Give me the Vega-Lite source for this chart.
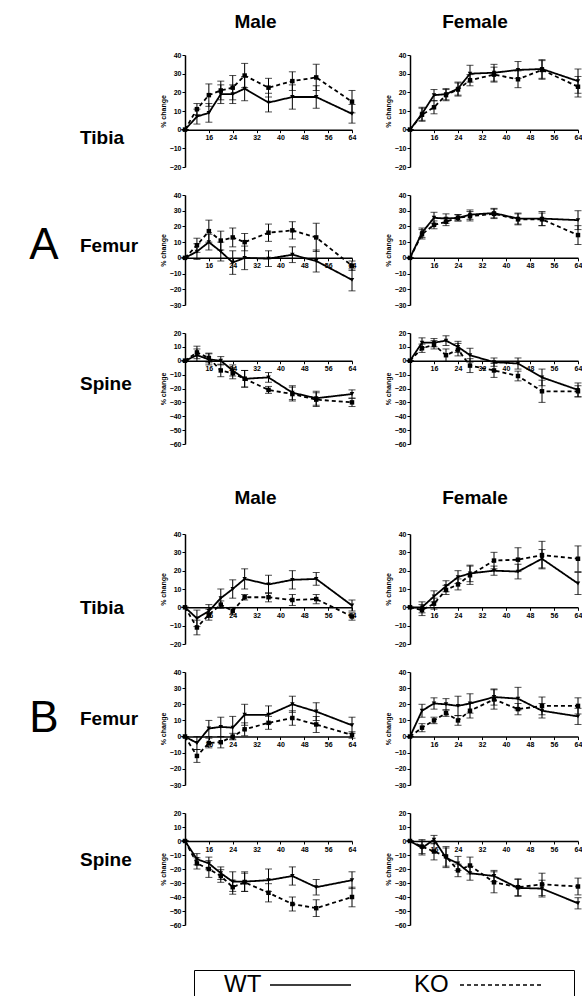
{
"$schema": "https://vega.github.io/schema/vega-lite/v6.json",
"padding": 0,
"background": "white",
"spacing": 28,
"align": "each",
"config": {
  "font": "Liberation Sans",
  "view": {"stroke": null},
  "axis": {"grid": false, "domainColor": "black", "domainWidth": 1.5, "tickColor": "black", "tickSize": 3, "tickWidth": 1, "labelFontSize": 7, "labelFontWeight": "bold", "labelColor": "black", "labelPadding": 1, "labelFlush": false, "labelOverlap": false, "titleFontSize": 7, "titleFontWeight": "bold", "titleColor": "black", "titlePadding": 3},
  "text": {"color": "black"}
},
"datasets": {
  "pv": [
    {"panel": "AMT", "p": "p=0.015"}, {"panel": "AFT", "p": "p=0.376"},
    {"panel": "AMF", "p": "p<0.001"}, {"panel": "AFF", "p": "p=0.200"},
    {"panel": "AMS", "p": "p=0.213"}, {"panel": "AFS", "p": "p=0.006"},
    {"panel": "BMT", "p": "p<0.001"}, {"panel": "BFT", "p": "p=0.489"},
    {"panel": "BMF", "p": "p=0.002"}, {"panel": "BFF", "p": "p=0.072"},
    {"panel": "BMS", "p": "p=0.011"}, {"panel": "BFS", "p": "p=0.750"}
  ],
  "d": [
    {"panel":"AMT","geno":"WT","week":8,"mean":0,"sem":0},{"panel":"AMT","geno":"WT","week":12,"mean":7,"sem":4},{"panel":"AMT","geno":"WT","week":16,"mean":9,"sem":5},{"panel":"AMT","geno":"WT","week":20,"mean":19,"sem":5},{"panel":"AMT","geno":"WT","week":24,"mean":19,"sem":5},{"panel":"AMT","geno":"WT","week":28,"mean":22,"sem":6.5},{"panel":"AMT","geno":"WT","week":36,"mean":14.5,"sem":5},{"panel":"AMT","geno":"WT","week":44,"mean":17.5,"sem":6.5},{"panel":"AMT","geno":"WT","week":52,"mean":17.5,"sem":6},{"panel":"AMT","geno":"WT","week":64,"mean":8.5,"sem":5},
    {"panel":"AMT","geno":"KO","week":8,"mean":0,"sem":0},{"panel":"AMT","geno":"KO","week":12,"mean":11,"sem":3},{"panel":"AMT","geno":"KO","week":16,"mean":18.5,"sem":6},{"panel":"AMT","geno":"KO","week":20,"mean":21,"sem":5},{"panel":"AMT","geno":"KO","week":24,"mean":22.5,"sem":6.5},{"panel":"AMT","geno":"KO","week":28,"mean":29,"sem":6.5},{"panel":"AMT","geno":"KO","week":36,"mean":22.5,"sem":5},{"panel":"AMT","geno":"KO","week":44,"mean":26,"sem":5},{"panel":"AMT","geno":"KO","week":52,"mean":28,"sem":7},{"panel":"AMT","geno":"KO","week":64,"mean":15,"sem":6},
    {"panel":"AFT","geno":"WT","week":8,"mean":0,"sem":0},{"panel":"AFT","geno":"WT","week":12,"mean":8.5,"sem":3.5},{"panel":"AFT","geno":"WT","week":16,"mean":18.5,"sem":3},{"panel":"AFT","geno":"WT","week":20,"mean":19,"sem":3},{"panel":"AFT","geno":"WT","week":24,"mean":22,"sem":3.5},{"panel":"AFT","geno":"WT","week":28,"mean":30,"sem":4.5},{"panel":"AFT","geno":"WT","week":36,"mean":30.5,"sem":4.5},{"panel":"AFT","geno":"WT","week":44,"mean":32,"sem":4.5},{"panel":"AFT","geno":"WT","week":52,"mean":32.5,"sem":5},{"panel":"AFT","geno":"WT","week":64,"mean":26,"sem":6.5},
    {"panel":"AFT","geno":"KO","week":8,"mean":0,"sem":0},{"panel":"AFT","geno":"KO","week":12,"mean":8,"sem":3.5},{"panel":"AFT","geno":"KO","week":16,"mean":12,"sem":3.5},{"panel":"AFT","geno":"KO","week":20,"mean":18.5,"sem":3},{"panel":"AFT","geno":"KO","week":24,"mean":21.5,"sem":3.5},{"panel":"AFT","geno":"KO","week":28,"mean":26.5,"sem":3},{"panel":"AFT","geno":"KO","week":36,"mean":29.5,"sem":4},{"panel":"AFT","geno":"KO","week":44,"mean":27,"sem":4.5},{"panel":"AFT","geno":"KO","week":52,"mean":32,"sem":5},{"panel":"AFT","geno":"KO","week":64,"mean":23,"sem":5.5},
    {"panel":"AMF","geno":"WT","week":8,"mean":0,"sem":0},{"panel":"AMF","geno":"WT","week":12,"mean":4,"sem":5},{"panel":"AMF","geno":"WT","week":16,"mean":10,"sem":5},{"panel":"AMF","geno":"WT","week":20,"mean":4,"sem":6},{"panel":"AMF","geno":"WT","week":24,"mean":-3,"sem":7.5},{"panel":"AMF","geno":"WT","week":28,"mean":0,"sem":7.5},{"panel":"AMF","geno":"WT","week":36,"mean":-0.5,"sem":5},{"panel":"AMF","geno":"WT","week":44,"mean":2,"sem":5},{"panel":"AMF","geno":"WT","week":52,"mean":-2,"sem":7},{"panel":"AMF","geno":"WT","week":64,"mean":-14,"sem":7},
    {"panel":"AMF","geno":"KO","week":8,"mean":0,"sem":0},{"panel":"AMF","geno":"KO","week":12,"mean":8,"sem":4.5},{"panel":"AMF","geno":"KO","week":16,"mean":17,"sem":7},{"panel":"AMF","geno":"KO","week":20,"mean":11,"sem":6},{"panel":"AMF","geno":"KO","week":24,"mean":13,"sem":6},{"panel":"AMF","geno":"KO","week":28,"mean":10,"sem":5.5},{"panel":"AMF","geno":"KO","week":36,"mean":16,"sem":5.5},{"panel":"AMF","geno":"KO","week":44,"mean":17.5,"sem":5.5},{"panel":"AMF","geno":"KO","week":52,"mean":13,"sem":9},{"panel":"AMF","geno":"KO","week":64,"mean":-5,"sem":3},
    {"panel":"AFF","geno":"WT","week":8,"mean":0,"sem":0},{"panel":"AFF","geno":"WT","week":12,"mean":16,"sem":3},{"panel":"AFF","geno":"WT","week":16,"mean":25.5,"sem":3.5},{"panel":"AFF","geno":"WT","week":20,"mean":25,"sem":3},{"panel":"AFF","geno":"WT","week":24,"mean":25.5,"sem":2},{"panel":"AFF","geno":"WT","week":28,"mean":27.5,"sem":3},{"panel":"AFF","geno":"WT","week":36,"mean":28.5,"sem":3},{"panel":"AFF","geno":"WT","week":44,"mean":25,"sem":3.5},{"panel":"AFF","geno":"WT","week":52,"mean":25,"sem":4.5},{"panel":"AFF","geno":"WT","week":64,"mean":24,"sem":6},
    {"panel":"AFF","geno":"KO","week":8,"mean":0,"sem":0},{"panel":"AFF","geno":"KO","week":12,"mean":15,"sem":3},{"panel":"AFF","geno":"KO","week":16,"mean":21,"sem":2.5},{"panel":"AFF","geno":"KO","week":20,"mean":23,"sem":2.5},{"panel":"AFF","geno":"KO","week":24,"mean":25.5,"sem":2},{"panel":"AFF","geno":"KO","week":28,"mean":26.5,"sem":3},{"panel":"AFF","geno":"KO","week":36,"mean":28,"sem":3},{"panel":"AFF","geno":"KO","week":44,"mean":24.5,"sem":3.5},{"panel":"AFF","geno":"KO","week":52,"mean":24.5,"sem":4},{"panel":"AFF","geno":"KO","week":64,"mean":14.5,"sem":6},
    {"panel":"AMS","geno":"WT","week":8,"mean":0,"sem":0},{"panel":"AMS","geno":"WT","week":12,"mean":4,"sem":4.5},{"panel":"AMS","geno":"WT","week":16,"mean":1,"sem":4},{"panel":"AMS","geno":"WT","week":20,"mean":0,"sem":3},{"panel":"AMS","geno":"WT","week":24,"mean":-7,"sem":4},{"panel":"AMS","geno":"WT","week":28,"mean":-13,"sem":6},{"panel":"AMS","geno":"WT","week":36,"mean":-12,"sem":3.5},{"panel":"AMS","geno":"WT","week":44,"mean":-23,"sem":5},{"panel":"AMS","geno":"WT","week":52,"mean":-27,"sem":5},{"panel":"AMS","geno":"WT","week":64,"mean":-24,"sem":3},
    {"panel":"AMS","geno":"KO","week":8,"mean":0,"sem":0},{"panel":"AMS","geno":"KO","week":12,"mean":6,"sem":4.5},{"panel":"AMS","geno":"KO","week":16,"mean":2,"sem":3.5},{"panel":"AMS","geno":"KO","week":20,"mean":-7,"sem":4.5},{"panel":"AMS","geno":"KO","week":24,"mean":-9,"sem":4},{"panel":"AMS","geno":"KO","week":28,"mean":-13,"sem":6},{"panel":"AMS","geno":"KO","week":36,"mean":-21,"sem":2.5},{"panel":"AMS","geno":"KO","week":44,"mean":-24,"sem":5},{"panel":"AMS","geno":"KO","week":52,"mean":-28,"sem":5},{"panel":"AMS","geno":"KO","week":64,"mean":-30,"sem":3},
    {"panel":"AFS","geno":"WT","week":8,"mean":0,"sem":0},{"panel":"AFS","geno":"WT","week":12,"mean":13,"sem":3.5},{"panel":"AFS","geno":"WT","week":16,"mean":13,"sem":3},{"panel":"AFS","geno":"WT","week":20,"mean":14.5,"sem":3.5},{"panel":"AFS","geno":"WT","week":24,"mean":10,"sem":4},{"panel":"AFS","geno":"WT","week":28,"mean":4,"sem":5},{"panel":"AFS","geno":"WT","week":36,"mean":-1,"sem":3},{"panel":"AFS","geno":"WT","week":44,"mean":-2,"sem":4},{"panel":"AFS","geno":"WT","week":52,"mean":-12,"sem":6},{"panel":"AFS","geno":"WT","week":64,"mean":-21,"sem":5},
    {"panel":"AFS","geno":"KO","week":8,"mean":0,"sem":0},{"panel":"AFS","geno":"KO","week":12,"mean":9,"sem":3},{"panel":"AFS","geno":"KO","week":16,"mean":11.5,"sem":3},{"panel":"AFS","geno":"KO","week":20,"mean":4,"sem":4.5},{"panel":"AFS","geno":"KO","week":24,"mean":8,"sem":4.5},{"panel":"AFS","geno":"KO","week":28,"mean":-3.5,"sem":5},{"panel":"AFS","geno":"KO","week":36,"mean":-7,"sem":5},{"panel":"AFS","geno":"KO","week":44,"mean":-11,"sem":3.5},{"panel":"AFS","geno":"KO","week":52,"mean":-22,"sem":8},{"panel":"AFS","geno":"KO","week":64,"mean":-22,"sem":4},
    {"panel":"BMT","geno":"WT","week":8,"mean":0,"sem":0},{"panel":"BMT","geno":"WT","week":12,"mean":-6,"sem":4.5},{"panel":"BMT","geno":"WT","week":16,"mean":-2,"sem":3.5},{"panel":"BMT","geno":"WT","week":20,"mean":5,"sem":5},{"panel":"BMT","geno":"WT","week":24,"mean":10,"sem":5},{"panel":"BMT","geno":"WT","week":28,"mean":15.5,"sem":5.5},{"panel":"BMT","geno":"WT","week":36,"mean":12.5,"sem":5},{"panel":"BMT","geno":"WT","week":44,"mean":15,"sem":5},{"panel":"BMT","geno":"WT","week":52,"mean":15.5,"sem":3.5},{"panel":"BMT","geno":"WT","week":64,"mean":1,"sem":3},
    {"panel":"BMT","geno":"KO","week":8,"mean":0,"sem":0},{"panel":"BMT","geno":"KO","week":12,"mean":-11,"sem":4},{"panel":"BMT","geno":"KO","week":16,"mean":-4,"sem":3},{"panel":"BMT","geno":"KO","week":20,"mean":1.5,"sem":2},{"panel":"BMT","geno":"KO","week":24,"mean":-2,"sem":2},{"panel":"BMT","geno":"KO","week":28,"mean":5.5,"sem":1.5},{"panel":"BMT","geno":"KO","week":36,"mean":5.5,"sem":2.5},{"panel":"BMT","geno":"KO","week":44,"mean":4,"sem":3},{"panel":"BMT","geno":"KO","week":52,"mean":4.5,"sem":2.5},{"panel":"BMT","geno":"KO","week":64,"mean":-5,"sem":2},
    {"panel":"BFT","geno":"WT","week":8,"mean":0,"sem":0},{"panel":"BFT","geno":"WT","week":12,"mean":0,"sem":3},{"panel":"BFT","geno":"WT","week":16,"mean":6,"sem":3},{"panel":"BFT","geno":"WT","week":20,"mean":11.5,"sem":3},{"panel":"BFT","geno":"WT","week":24,"mean":16.5,"sem":3.5},{"panel":"BFT","geno":"WT","week":28,"mean":18.5,"sem":4.5},{"panel":"BFT","geno":"WT","week":36,"mean":20,"sem":2.5},{"panel":"BFT","geno":"WT","week":44,"mean":19.5,"sem":4},{"panel":"BFT","geno":"WT","week":52,"mean":26.5,"sem":5},{"panel":"BFT","geno":"WT","week":64,"mean":13,"sem":6},
    {"panel":"BFT","geno":"KO","week":8,"mean":0,"sem":0},{"panel":"BFT","geno":"KO","week":12,"mean":-1.5,"sem":3},{"panel":"BFT","geno":"KO","week":16,"mean":2,"sem":3},{"panel":"BFT","geno":"KO","week":20,"mean":9.5,"sem":2.5},{"panel":"BFT","geno":"KO","week":24,"mean":12.5,"sem":3},{"panel":"BFT","geno":"KO","week":28,"mean":17.5,"sem":5},{"panel":"BFT","geno":"KO","week":36,"mean":25.5,"sem":4.5},{"panel":"BFT","geno":"KO","week":44,"mean":26,"sem":6.5},{"panel":"BFT","geno":"KO","week":52,"mean":28.5,"sem":7.5},{"panel":"BFT","geno":"KO","week":64,"mean":26.5,"sem":7},
    {"panel":"BMF","geno":"WT","week":8,"mean":0,"sem":0},{"panel":"BMF","geno":"WT","week":12,"mean":-4,"sem":4},{"panel":"BMF","geno":"WT","week":16,"mean":5,"sem":5},{"panel":"BMF","geno":"WT","week":20,"mean":6,"sem":6},{"panel":"BMF","geno":"WT","week":24,"mean":5.5,"sem":7},{"panel":"BMF","geno":"WT","week":28,"mean":13.5,"sem":6.5},{"panel":"BMF","geno":"WT","week":36,"mean":13.5,"sem":5.5},{"panel":"BMF","geno":"WT","week":44,"mean":20,"sem":5},{"panel":"BMF","geno":"WT","week":52,"mean":15.5,"sem":5.5},{"panel":"BMF","geno":"WT","week":64,"mean":7,"sem":5},
    {"panel":"BMF","geno":"KO","week":8,"mean":0,"sem":0},{"panel":"BMF","geno":"KO","week":12,"mean":-12,"sem":4},{"panel":"BMF","geno":"KO","week":16,"mean":-4,"sem":3},{"panel":"BMF","geno":"KO","week":20,"mean":-3.5,"sem":3.5},{"panel":"BMF","geno":"KO","week":24,"mean":0,"sem":2},{"panel":"BMF","geno":"KO","week":28,"mean":4.5,"sem":4},{"panel":"BMF","geno":"KO","week":36,"mean":8.5,"sem":4},{"panel":"BMF","geno":"KO","week":44,"mean":11.5,"sem":4.5},{"panel":"BMF","geno":"KO","week":52,"mean":7.5,"sem":5},{"panel":"BMF","geno":"KO","week":64,"mean":1,"sem":2},
    {"panel":"BFF","geno":"WT","week":8,"mean":0,"sem":0},{"panel":"BFF","geno":"WT","week":12,"mean":16,"sem":4},{"panel":"BFF","geno":"WT","week":16,"mean":20.5,"sem":3.5},{"panel":"BFF","geno":"WT","week":20,"mean":20,"sem":3.5},{"panel":"BFF","geno":"WT","week":24,"mean":19,"sem":6},{"panel":"BFF","geno":"WT","week":28,"mean":20.5,"sem":6},{"panel":"BFF","geno":"WT","week":36,"mean":24.5,"sem":5},{"panel":"BFF","geno":"WT","week":44,"mean":23.5,"sem":7},{"panel":"BFF","geno":"WT","week":52,"mean":16,"sem":4.5},{"panel":"BFF","geno":"WT","week":64,"mean":12.5,"sem":5},
    {"panel":"BFF","geno":"KO","week":8,"mean":0,"sem":0},{"panel":"BFF","geno":"KO","week":12,"mean":5.5,"sem":2.5},{"panel":"BFF","geno":"KO","week":16,"mean":10,"sem":2},{"panel":"BFF","geno":"KO","week":20,"mean":14.5,"sem":2},{"panel":"BFF","geno":"KO","week":24,"mean":10,"sem":3},{"panel":"BFF","geno":"KO","week":28,"mean":16,"sem":4.5},{"panel":"BFF","geno":"KO","week":36,"mean":23,"sem":6},{"panel":"BFF","geno":"KO","week":44,"mean":17,"sem":3.5},{"panel":"BFF","geno":"KO","week":52,"mean":19,"sem":5.5},{"panel":"BFF","geno":"KO","week":64,"mean":19,"sem":5},
    {"panel":"BMS","geno":"WT","week":8,"mean":0,"sem":0},{"panel":"BMS","geno":"WT","week":12,"mean":-13,"sem":4},{"panel":"BMS","geno":"WT","week":16,"mean":-16,"sem":4.5},{"panel":"BMS","geno":"WT","week":20,"mean":-23,"sem":4.5},{"panel":"BMS","geno":"WT","week":24,"mean":-29,"sem":7},{"panel":"BMS","geno":"WT","week":28,"mean":-29,"sem":7},{"panel":"BMS","geno":"WT","week":36,"mean":-28,"sem":8},{"panel":"BMS","geno":"WT","week":44,"mean":-25,"sem":6.5},{"panel":"BMS","geno":"WT","week":52,"mean":-33,"sem":5.5},{"panel":"BMS","geno":"WT","week":64,"mean":-28,"sem":6},
    {"panel":"BMS","geno":"KO","week":8,"mean":0,"sem":0},{"panel":"BMS","geno":"KO","week":12,"mean":-16,"sem":4},{"panel":"BMS","geno":"KO","week":16,"mean":-20,"sem":6},{"panel":"BMS","geno":"KO","week":20,"mean":-25,"sem":4.5},{"panel":"BMS","geno":"KO","week":24,"mean":-33,"sem":5},{"panel":"BMS","geno":"KO","week":28,"mean":-29.5,"sem":6.5},{"panel":"BMS","geno":"KO","week":36,"mean":-37,"sem":6.5},{"panel":"BMS","geno":"KO","week":44,"mean":-45,"sem":5},{"panel":"BMS","geno":"KO","week":52,"mean":-48,"sem":6},{"panel":"BMS","geno":"KO","week":64,"mean":-40,"sem":7},
    {"panel":"BFS","geno":"WT","week":8,"mean":0,"sem":0},{"panel":"BFS","geno":"WT","week":12,"mean":-5,"sem":5},{"panel":"BFS","geno":"WT","week":16,"mean":1,"sem":3},{"panel":"BFS","geno":"WT","week":20,"mean":-12,"sem":7},{"panel":"BFS","geno":"WT","week":24,"mean":-16,"sem":5},{"panel":"BFS","geno":"WT","week":28,"mean":-23,"sem":5},{"panel":"BFS","geno":"WT","week":36,"mean":-25,"sem":4},{"panel":"BFS","geno":"WT","week":44,"mean":-33.5,"sem":6},{"panel":"BFS","geno":"WT","week":52,"mean":-34,"sem":6},{"panel":"BFS","geno":"WT","week":64,"mean":-44.5,"sem":4},
    {"panel":"BFS","geno":"KO","week":8,"mean":0,"sem":0},{"panel":"BFS","geno":"KO","week":12,"mean":-4,"sem":5},{"panel":"BFS","geno":"KO","week":16,"mean":-7.5,"sem":6},{"panel":"BFS","geno":"KO","week":20,"mean":-11,"sem":7},{"panel":"BFS","geno":"KO","week":24,"mean":-21,"sem":4.5},{"panel":"BFS","geno":"KO","week":28,"mean":-17.5,"sem":6},{"panel":"BFS","geno":"KO","week":36,"mean":-29.5,"sem":7.5},{"panel":"BFS","geno":"KO","week":44,"mean":-33,"sem":6},{"panel":"BFS","geno":"KO","week":52,"mean":-31,"sem":8},{"panel":"BFS","geno":"KO","week":64,"mean":-32.5,"sem":6}
  ]
},
"vconcat": [
{
"columns": 3,
"spacing": {"row": 28, "column": 58},
"bounds": "flush",
"align": "each",
"concat": [
  {"width": 127, "height": 27, "data": {"values": [{}]}, "mark": {"type": "text", "text": ""}},
  {"width": 167, "height": 27, "data": {"values": [{"t": "Male"}]}, "mark": {"type": "text", "fontSize": 19, "fontWeight": "bold", "dx": -13, "dy": 8.5}, "encoding": {"text": {"field": "t"}}},
  {"width": 168, "height": 27, "data": {"values": [{"t": "Female"}]}, "mark": {"type": "text", "fontSize": 19, "fontWeight": "bold", "dx": -19, "dy": 8.5}, "encoding": {"text": {"field": "t"}}},

  {"width": 127, "height": 112, "data": {"values": [{"t": "Tibia"}]}, "mark": {"type": "text", "fontSize": 19, "fontWeight": "bold", "align": "left", "baseline": "middle", "dx": 16.5, "dy": 27}, "encoding": {"text": {"field": "t"}}},
  {"width": 167, "height": 112, "data": {"name": "d"}, "transform": [{"filter": "datum.panel == 'AMT'"}],
   "encoding": {"x": {"field": "week", "type": "quantitative", "title": null, "scale": {"domain": [8, 64], "nice": false, "zero": false}, "axis": {"values": [16, 24, 32, 40, 48, 56, 64], "offset": -37.33}},
                "y": {"field": "mean", "type": "quantitative", "title": "% change", "scale": {"domain": [-20, 40], "nice": false, "zero": false}, "axis": {"values": [-20, -10, 0, 10, 20, 30, 40]}}},
   "layer": [
     {"mark": {"type": "errorbar", "ticks": {"size": 7}, "color": "black", "thickness": 1}, "encoding": {"yError": {"field": "sem"}}},
     {"mark": {"type": "line", "color": "black", "strokeWidth": 1.8}, "encoding": {"strokeDash": {"field": "geno", "type": "nominal", "scale": {"domain": ["WT", "KO"], "range": [[1, 0], [4, 3]]}, "legend": null}}},
     {"mark": {"type": "point", "filled": true, "color": "black", "opacity": 1, "size": 20}, "encoding": {"shape": {"field": "geno", "type": "nominal", "scale": {"domain": ["WT", "KO"], "range": ["triangle-down", "square"]}, "legend": null}}},
     {"data": {"name": "pv"}, "transform": [{"filter": "datum.panel == 'AMT'"}], "mark": {"type": "text", "fontSize": 10}, "encoding": {"x": {"datum": 34.8}, "y": {"datum": 41.8}, "text": {"field": "p"}}}
   ]},
  {"width": 168, "height": 112, "data": {"name": "d"}, "transform": [{"filter": "datum.panel == 'AFT'"}],
   "encoding": {"x": {"field": "week", "type": "quantitative", "title": null, "scale": {"domain": [8, 64], "nice": false, "zero": false}, "axis": {"values": [16, 24, 32, 40, 48, 56, 64], "offset": -37.33}},
                "y": {"field": "mean", "type": "quantitative", "title": "% change", "scale": {"domain": [-20, 40], "nice": false, "zero": false}, "axis": {"values": [-20, -10, 0, 10, 20, 30, 40]}}},
   "layer": [
     {"mark": {"type": "errorbar", "ticks": {"size": 7}, "color": "black", "thickness": 1}, "encoding": {"yError": {"field": "sem"}}},
     {"mark": {"type": "line", "color": "black", "strokeWidth": 1.8}, "encoding": {"strokeDash": {"field": "geno", "type": "nominal", "scale": {"domain": ["WT", "KO"], "range": [[1, 0], [4, 3]]}, "legend": null}}},
     {"mark": {"type": "point", "filled": true, "color": "black", "opacity": 1, "size": 20}, "encoding": {"shape": {"field": "geno", "type": "nominal", "scale": {"domain": ["WT", "KO"], "range": ["triangle-down", "square"]}, "legend": null}}},
     {"data": {"name": "pv"}, "transform": [{"filter": "datum.panel == 'AFT'"}], "mark": {"type": "text", "fontSize": 10}, "encoding": {"x": {"datum": 38}, "y": {"datum": 44}, "text": {"field": "p"}}}
   ]},

  {"width": 127, "height": 110, "data": {"values": [{"t": "Femur", "s": "A"}]}, "layer": [
     {"mark": {"type": "text", "fontSize": 19, "fontWeight": "bold", "align": "left", "baseline": "middle", "dx": 16.5, "dy": -4}, "encoding": {"text": {"field": "t"}}},
     {"mark": {"type": "text", "fontSize": 44, "baseline": "middle", "dx": -19.5, "dy": -4}, "encoding": {"text": {"field": "s"}}}]},
  {"width": 167, "height": 110, "data": {"name": "d"}, "transform": [{"filter": "datum.panel == 'AMF'"}],
   "encoding": {"x": {"field": "week", "type": "quantitative", "title": null, "scale": {"domain": [8, 64], "nice": false, "zero": false}, "axis": {"values": [16, 24, 32, 40, 48, 56, 64], "offset": -47.14}},
                "y": {"field": "mean", "type": "quantitative", "title": "% change", "scale": {"domain": [-30, 40], "nice": false, "zero": false}, "axis": {"values": [-30, -20, -10, 0, 10, 20, 30, 40]}}},
   "layer": [
     {"mark": {"type": "errorbar", "ticks": {"size": 7}, "color": "black", "thickness": 1}, "encoding": {"yError": {"field": "sem"}}},
     {"mark": {"type": "line", "color": "black", "strokeWidth": 1.8}, "encoding": {"strokeDash": {"field": "geno", "type": "nominal", "scale": {"domain": ["WT", "KO"], "range": [[1, 0], [4, 3]]}, "legend": null}}},
     {"mark": {"type": "point", "filled": true, "color": "black", "opacity": 1, "size": 20}, "encoding": {"shape": {"field": "geno", "type": "nominal", "scale": {"domain": ["WT", "KO"], "range": ["triangle-down", "square"]}, "legend": null}}},
     {"data": {"name": "pv"}, "transform": [{"filter": "datum.panel == 'AMF'"}], "mark": {"type": "text", "fontSize": 10}, "encoding": {"x": {"datum": 34.8}, "y": {"datum": 33.6}, "text": {"field": "p"}}}
   ]},
  {"width": 168, "height": 110, "data": {"name": "d"}, "transform": [{"filter": "datum.panel == 'AFF'"}],
   "encoding": {"x": {"field": "week", "type": "quantitative", "title": null, "scale": {"domain": [8, 64], "nice": false, "zero": false}, "axis": {"values": [16, 24, 32, 40, 48, 56, 64], "offset": -47.14}},
                "y": {"field": "mean", "type": "quantitative", "title": "% change", "scale": {"domain": [-30, 40], "nice": false, "zero": false}, "axis": {"values": [-30, -20, -10, 0, 10, 20, 30, 40]}}},
   "layer": [
     {"mark": {"type": "errorbar", "ticks": {"size": 7}, "color": "black", "thickness": 1}, "encoding": {"yError": {"field": "sem"}}},
     {"mark": {"type": "line", "color": "black", "strokeWidth": 1.8}, "encoding": {"strokeDash": {"field": "geno", "type": "nominal", "scale": {"domain": ["WT", "KO"], "range": [[1, 0], [4, 3]]}, "legend": null}}},
     {"mark": {"type": "point", "filled": true, "color": "black", "opacity": 1, "size": 20}, "encoding": {"shape": {"field": "geno", "type": "nominal", "scale": {"domain": ["WT", "KO"], "range": ["triangle-down", "square"]}, "legend": null}}},
     {"data": {"name": "pv"}, "transform": [{"filter": "datum.panel == 'AFF'"}], "mark": {"type": "text", "fontSize": 10}, "encoding": {"x": {"datum": 35.2}, "y": {"datum": 37.9}, "text": {"field": "p"}}}
   ]},

  {"width": 127, "height": 111, "data": {"values": [{"t": "Spine"}]}, "mark": {"type": "text", "fontSize": 19, "fontWeight": "bold", "align": "left", "baseline": "middle", "dx": 16.5, "dy": -4.5}, "encoding": {"text": {"field": "t"}}},
  {"width": 167, "height": 111, "data": {"name": "d"}, "transform": [{"filter": "datum.panel == 'AMS'"}],
   "encoding": {"x": {"field": "week", "type": "quantitative", "title": null, "scale": {"domain": [8, 64], "nice": false, "zero": false}, "axis": {"values": [16, 24, 32, 40, 48, 56, 64], "offset": -83.25}},
                "y": {"field": "mean", "type": "quantitative", "title": "% change", "scale": {"domain": [-60, 20], "nice": false, "zero": false}, "axis": {"values": [-60, -50, -40, -30, -20, -10, 0, 10, 20]}}},
   "layer": [
     {"mark": {"type": "errorbar", "ticks": {"size": 7}, "color": "black", "thickness": 1}, "encoding": {"yError": {"field": "sem"}}},
     {"mark": {"type": "line", "color": "black", "strokeWidth": 1.8}, "encoding": {"strokeDash": {"field": "geno", "type": "nominal", "scale": {"domain": ["WT", "KO"], "range": [[1, 0], [4, 3]]}, "legend": null}}},
     {"mark": {"type": "point", "filled": true, "color": "black", "opacity": 1, "size": 20}, "encoding": {"shape": {"field": "geno", "type": "nominal", "scale": {"domain": ["WT", "KO"], "range": ["triangle-down", "square"]}, "legend": null}}},
     {"data": {"name": "pv"}, "transform": [{"filter": "datum.panel == 'AMS'"}], "mark": {"type": "text", "fontSize": 10}, "encoding": {"x": {"datum": 33.7}, "y": {"datum": 14.7}, "text": {"field": "p"}}}
   ]},
  {"width": 168, "height": 111, "data": {"name": "d"}, "transform": [{"filter": "datum.panel == 'AFS'"}],
   "encoding": {"x": {"field": "week", "type": "quantitative", "title": null, "scale": {"domain": [8, 64], "nice": false, "zero": false}, "axis": {"values": [16, 24, 32, 40, 48, 56, 64], "offset": -83.25}},
                "y": {"field": "mean", "type": "quantitative", "title": "% change", "scale": {"domain": [-60, 20], "nice": false, "zero": false}, "axis": {"values": [-60, -50, -40, -30, -20, -10, 0, 10, 20]}}},
   "layer": [
     {"mark": {"type": "errorbar", "ticks": {"size": 7}, "color": "black", "thickness": 1}, "encoding": {"yError": {"field": "sem"}}},
     {"mark": {"type": "line", "color": "black", "strokeWidth": 1.8}, "encoding": {"strokeDash": {"field": "geno", "type": "nominal", "scale": {"domain": ["WT", "KO"], "range": [[1, 0], [4, 3]]}, "legend": null}}},
     {"mark": {"type": "point", "filled": true, "color": "black", "opacity": 1, "size": 20}, "encoding": {"shape": {"field": "geno", "type": "nominal", "scale": {"domain": ["WT", "KO"], "range": ["triangle-down", "square"]}, "legend": null}}},
     {"data": {"name": "pv"}, "transform": [{"filter": "datum.panel == 'AFS'"}], "mark": {"type": "text", "fontSize": 10}, "encoding": {"x": {"datum": 37.1}, "y": {"datum": 20.4}, "text": {"field": "p"}}}
   ]},

  {"width": 127, "height": 34, "data": {"values": [{}]}, "mark": {"type": "text", "text": ""}},
  {"width": 167, "height": 34, "data": {"values": [{"t": "Male"}]}, "mark": {"type": "text", "fontSize": 19, "fontWeight": "bold", "dx": -13, "dy": 8.5}, "encoding": {"text": {"field": "t"}}},
  {"width": 168, "height": 34, "data": {"values": [{"t": "Female"}]}, "mark": {"type": "text", "fontSize": 19, "fontWeight": "bold", "dx": -19, "dy": 8.5}, "encoding": {"text": {"field": "t"}}},

  {"width": 127, "height": 110, "data": {"values": [{"t": "Tibia"}]}, "mark": {"type": "text", "fontSize": 19, "fontWeight": "bold", "align": "left", "baseline": "middle", "dx": 16.5, "dy": 19}, "encoding": {"text": {"field": "t"}}},
  {"width": 167, "height": 110, "data": {"name": "d"}, "transform": [{"filter": "datum.panel == 'BMT'"}],
   "encoding": {"x": {"field": "week", "type": "quantitative", "title": null, "scale": {"domain": [8, 64], "nice": false, "zero": false}, "axis": {"values": [16, 24, 32, 40, 48, 56, 64], "offset": -36.67}},
                "y": {"field": "mean", "type": "quantitative", "title": "% change", "scale": {"domain": [-20, 40], "nice": false, "zero": false}, "axis": {"values": [-20, -10, 0, 10, 20, 30, 40]}}},
   "layer": [
     {"mark": {"type": "errorbar", "ticks": {"size": 7}, "color": "black", "thickness": 1}, "encoding": {"yError": {"field": "sem"}}},
     {"mark": {"type": "line", "color": "black", "strokeWidth": 1.8}, "encoding": {"strokeDash": {"field": "geno", "type": "nominal", "scale": {"domain": ["WT", "KO"], "range": [[1, 0], [4, 3]]}, "legend": null}}},
     {"mark": {"type": "point", "filled": true, "color": "black", "opacity": 1, "size": 20}, "encoding": {"shape": {"field": "geno", "type": "nominal", "scale": {"domain": ["WT", "KO"], "range": ["triangle-down", "square"]}, "legend": null}}},
     {"data": {"name": "pv"}, "transform": [{"filter": "datum.panel == 'BMT'"}], "mark": {"type": "text", "fontSize": 10}, "encoding": {"x": {"datum": 35.6}, "y": {"datum": 31}, "text": {"field": "p"}}}
   ]},
  {"width": 168, "height": 110, "data": {"name": "d"}, "transform": [{"filter": "datum.panel == 'BFT'"}],
   "encoding": {"x": {"field": "week", "type": "quantitative", "title": null, "scale": {"domain": [8, 64], "nice": false, "zero": false}, "axis": {"values": [16, 24, 32, 40, 48, 56, 64], "offset": -36.67}},
                "y": {"field": "mean", "type": "quantitative", "title": "% change", "scale": {"domain": [-20, 40], "nice": false, "zero": false}, "axis": {"values": [-20, -10, 0, 10, 20, 30, 40]}}},
   "layer": [
     {"mark": {"type": "errorbar", "ticks": {"size": 7}, "color": "black", "thickness": 1}, "encoding": {"yError": {"field": "sem"}}},
     {"mark": {"type": "line", "color": "black", "strokeWidth": 1.8}, "encoding": {"strokeDash": {"field": "geno", "type": "nominal", "scale": {"domain": ["WT", "KO"], "range": [[1, 0], [4, 3]]}, "legend": null}}},
     {"mark": {"type": "point", "filled": true, "color": "black", "opacity": 1, "size": 20}, "encoding": {"shape": {"field": "geno", "type": "nominal", "scale": {"domain": ["WT", "KO"], "range": ["triangle-down", "square"]}, "legend": null}}},
     {"data": {"name": "pv"}, "transform": [{"filter": "datum.panel == 'BFT'"}], "mark": {"type": "text", "fontSize": 10}, "encoding": {"x": {"datum": 35.6}, "y": {"datum": 38.4}, "text": {"field": "p"}}}
   ]},

  {"width": 127, "height": 113, "data": {"values": [{"t": "Femur", "s": "B"}]}, "layer": [
     {"mark": {"type": "text", "fontSize": 19, "fontWeight": "bold", "align": "left", "baseline": "middle", "dx": 16.5, "dy": -9.5}, "encoding": {"text": {"field": "t"}}},
     {"mark": {"type": "text", "fontSize": 44, "baseline": "middle", "dx": -19.5, "dy": -9.5}, "encoding": {"text": {"field": "s"}}}]},
  {"width": 167, "height": 113, "data": {"name": "d"}, "transform": [{"filter": "datum.panel == 'BMF'"}],
   "encoding": {"x": {"field": "week", "type": "quantitative", "title": null, "scale": {"domain": [8, 64], "nice": false, "zero": false}, "axis": {"values": [16, 24, 32, 40, 48, 56, 64], "offset": -48.43}},
                "y": {"field": "mean", "type": "quantitative", "title": "% change", "scale": {"domain": [-30, 40], "nice": false, "zero": false}, "axis": {"values": [-30, -20, -10, 0, 10, 20, 30, 40]}}},
   "layer": [
     {"mark": {"type": "errorbar", "ticks": {"size": 7}, "color": "black", "thickness": 1}, "encoding": {"yError": {"field": "sem"}}},
     {"mark": {"type": "line", "color": "black", "strokeWidth": 1.8}, "encoding": {"strokeDash": {"field": "geno", "type": "nominal", "scale": {"domain": ["WT", "KO"], "range": [[1, 0], [4, 3]]}, "legend": null}}},
     {"mark": {"type": "point", "filled": true, "color": "black", "opacity": 1, "size": 20}, "encoding": {"shape": {"field": "geno", "type": "nominal", "scale": {"domain": ["WT", "KO"], "range": ["triangle-down", "square"]}, "legend": null}}},
     {"data": {"name": "pv"}, "transform": [{"filter": "datum.panel == 'BMF'"}], "mark": {"type": "text", "fontSize": 10}, "encoding": {"x": {"datum": 34.8}, "y": {"datum": 35.4}, "text": {"field": "p"}}}
   ]},
  {"width": 168, "height": 113, "data": {"name": "d"}, "transform": [{"filter": "datum.panel == 'BFF'"}],
   "encoding": {"x": {"field": "week", "type": "quantitative", "title": null, "scale": {"domain": [8, 64], "nice": false, "zero": false}, "axis": {"values": [16, 24, 32, 40, 48, 56, 64], "offset": -48.43}},
                "y": {"field": "mean", "type": "quantitative", "title": "% change", "scale": {"domain": [-30, 40], "nice": false, "zero": false}, "axis": {"values": [-30, -20, -10, 0, 10, 20, 30, 40]}}},
   "layer": [
     {"mark": {"type": "errorbar", "ticks": {"size": 7}, "color": "black", "thickness": 1}, "encoding": {"yError": {"field": "sem"}}},
     {"mark": {"type": "line", "color": "black", "strokeWidth": 1.8}, "encoding": {"strokeDash": {"field": "geno", "type": "nominal", "scale": {"domain": ["WT", "KO"], "range": [[1, 0], [4, 3]]}, "legend": null}}},
     {"mark": {"type": "point", "filled": true, "color": "black", "opacity": 1, "size": 20}, "encoding": {"shape": {"field": "geno", "type": "nominal", "scale": {"domain": ["WT", "KO"], "range": ["triangle-down", "square"]}, "legend": null}}},
     {"data": {"name": "pv"}, "transform": [{"filter": "datum.panel == 'BFF'"}], "mark": {"type": "text", "fontSize": 10}, "encoding": {"x": {"datum": 36.9}, "y": {"datum": 41}, "text": {"field": "p"}}}
   ]},

  {"width": 127, "height": 128, "data": {"values": [{"t": "Spine"}]}, "mark": {"type": "text", "fontSize": 19, "fontWeight": "bold", "align": "left", "baseline": "middle", "dx": 16.5, "dy": -17}, "encoding": {"text": {"field": "t"}}},
  {"width": 167, "height": 112, "data": {"name": "d"}, "transform": [{"filter": "datum.panel == 'BMS'"}],
   "encoding": {"x": {"field": "week", "type": "quantitative", "title": null, "scale": {"domain": [8, 64], "nice": false, "zero": false}, "axis": {"values": [16, 24, 32, 40, 48, 56, 64], "offset": -84}},
                "y": {"field": "mean", "type": "quantitative", "title": "% change", "scale": {"domain": [-60, 20], "nice": false, "zero": false}, "axis": {"values": [-60, -50, -40, -30, -20, -10, 0, 10, 20]}}},
   "layer": [
     {"mark": {"type": "errorbar", "ticks": {"size": 7}, "color": "black", "thickness": 1}, "encoding": {"yError": {"field": "sem"}}},
     {"mark": {"type": "line", "color": "black", "strokeWidth": 1.8}, "encoding": {"strokeDash": {"field": "geno", "type": "nominal", "scale": {"domain": ["WT", "KO"], "range": [[1, 0], [4, 3]]}, "legend": null}}},
     {"mark": {"type": "point", "filled": true, "color": "black", "opacity": 1, "size": 20}, "encoding": {"shape": {"field": "geno", "type": "nominal", "scale": {"domain": ["WT", "KO"], "range": ["triangle-down", "square"]}, "legend": null}}},
     {"data": {"name": "pv"}, "transform": [{"filter": "datum.panel == 'BMS'"}], "mark": {"type": "text", "fontSize": 10}, "encoding": {"x": {"datum": 35.9}, "y": {"datum": 13.6}, "text": {"field": "p"}}}
   ]},
  {"width": 168, "height": 112, "data": {"name": "d"}, "transform": [{"filter": "datum.panel == 'BFS'"}],
   "encoding": {"x": {"field": "week", "type": "quantitative", "title": null, "scale": {"domain": [8, 64], "nice": false, "zero": false}, "axis": {"values": [16, 24, 32, 40, 48, 56, 64], "offset": -84}},
                "y": {"field": "mean", "type": "quantitative", "title": "% change", "scale": {"domain": [-60, 20], "nice": false, "zero": false}, "axis": {"values": [-60, -50, -40, -30, -20, -10, 0, 10, 20]}}},
   "layer": [
     {"mark": {"type": "errorbar", "ticks": {"size": 7}, "color": "black", "thickness": 1}, "encoding": {"yError": {"field": "sem"}}},
     {"mark": {"type": "line", "color": "black", "strokeWidth": 1.8}, "encoding": {"strokeDash": {"field": "geno", "type": "nominal", "scale": {"domain": ["WT", "KO"], "range": [[1, 0], [4, 3]]}, "legend": null}}},
     {"mark": {"type": "point", "filled": true, "color": "black", "opacity": 1, "size": 20}, "encoding": {"shape": {"field": "geno", "type": "nominal", "scale": {"domain": ["WT", "KO"], "range": ["triangle-down", "square"]}, "legend": null}}},
     {"data": {"name": "pv"}, "transform": [{"filter": "datum.panel == 'BFS'"}], "mark": {"type": "text", "fontSize": 10}, "encoding": {"x": {"datum": 36.7}, "y": {"datum": 17.9}, "text": {"field": "p"}}}
   ]}
]
},
{
"spacing": 58,
"hconcat": [
  {"width": 135, "height": 36, "data": {"values": [{}]}, "mark": {"type": "text", "text": ""}},
  {"width": 380, "height": 36, "view": {"stroke": "black", "strokeWidth": 1}, "data": {"values": [{"geno": "WT"}, {"geno": "KO"}]},
   "encoding": {"x": {"field": "geno", "type": "nominal", "scale": {"domain": ["WT", "KO"], "paddingInner": 0, "paddingOuter": 0}, "axis": null}},
   "layer": [
     {"mark": {"type": "text", "fontSize": 24, "align": "left", "baseline": "middle", "dx": -65, "dy": -3}, "encoding": {"text": {"field": "geno"}}},
     {"mark": {"type": "rule", "color": "black", "strokeWidth": 1.5, "xOffset": -19, "x2Offset": 62, "yOffset": -3}, "encoding": {"x2": {"field": "geno"}, "strokeDash": {"field": "geno", "type": "nominal", "scale": {"domain": ["WT", "KO"], "range": [[1, 0], [4, 3]]}, "legend": null}}}
   ]}
]
}
]
}
